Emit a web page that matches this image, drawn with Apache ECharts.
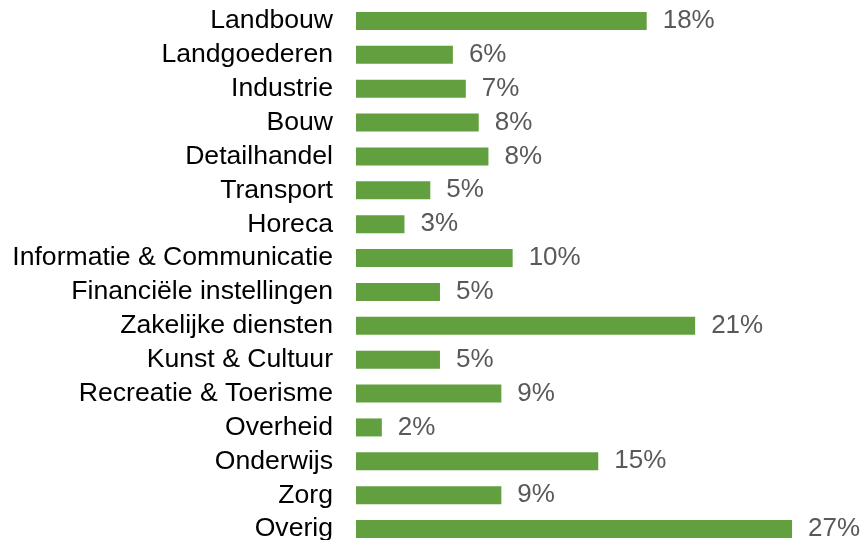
<!DOCTYPE html>
<html>
<head>
<meta charset="utf-8">
<script src="https://cdn.jsdelivr.net/npm/echarts@6/dist/echarts.min.js"></script>
<style>
  html, body { margin: 0; padding: 0; background: #fff; }
  #chart { width: 860px; height: 540px; }
</style>
</head>
<body>
<div id="chart"></div>
<script>
var sectors = ['Landbouw', 'Landgoederen', 'Industrie', 'Bouw', 'Detailhandel', 'Transport', 'Horeca',
  'Informatie & Communicatie', 'Financiële instellingen', 'Zakelijke diensten', 'Kunst & Cultuur',
  'Recreatie & Toerisme', 'Overheid', 'Onderwijs', 'Zorg', 'Overig'];
var shares = [18, 6, 6.8, 7.6, 8.2, 4.6, 3, 9.7, 5.2, 21, 5.2, 9, 1.6, 15, 9, 27];

var chart = echarts.init(document.getElementById('chart'));
chart.setOption({
  animation: false,
  grid: { left: 356, top: 4, right: 19.5, bottom: -6, outerBoundsMode: 'none' },
  xAxis: {
    type: 'value',
    min: 0,
    max: 30,
    show: false
  },
  yAxis: {
    type: 'category',
    data: sectors,
    inverse: true,
    axisLine: { show: false },
    axisTick: { show: false },
    axisLabel: {
      interval: 0,
      margin: 23,
      padding: [4, 0, 0, 0],
      color: '#000',
      fontFamily: 'Liberation Sans, Arial, sans-serif',
      fontSize: 26.6
    }
  },
  series: [{
    type: 'bar',
    data: shares,
    barWidth: 18,
    itemStyle: { color: '#62A03F' },
    label: {
      show: true,
      position: 'right',
      distance: 16,
      padding: [4, 0, 0, 0],
      color: '#595959',
      fontFamily: 'Liberation Sans, Arial, sans-serif',
      fontSize: 26,
      formatter: function (p) { return Math.round(p.value) + '%'; }
    }
  }]
});
</script>
</body>
</html>
